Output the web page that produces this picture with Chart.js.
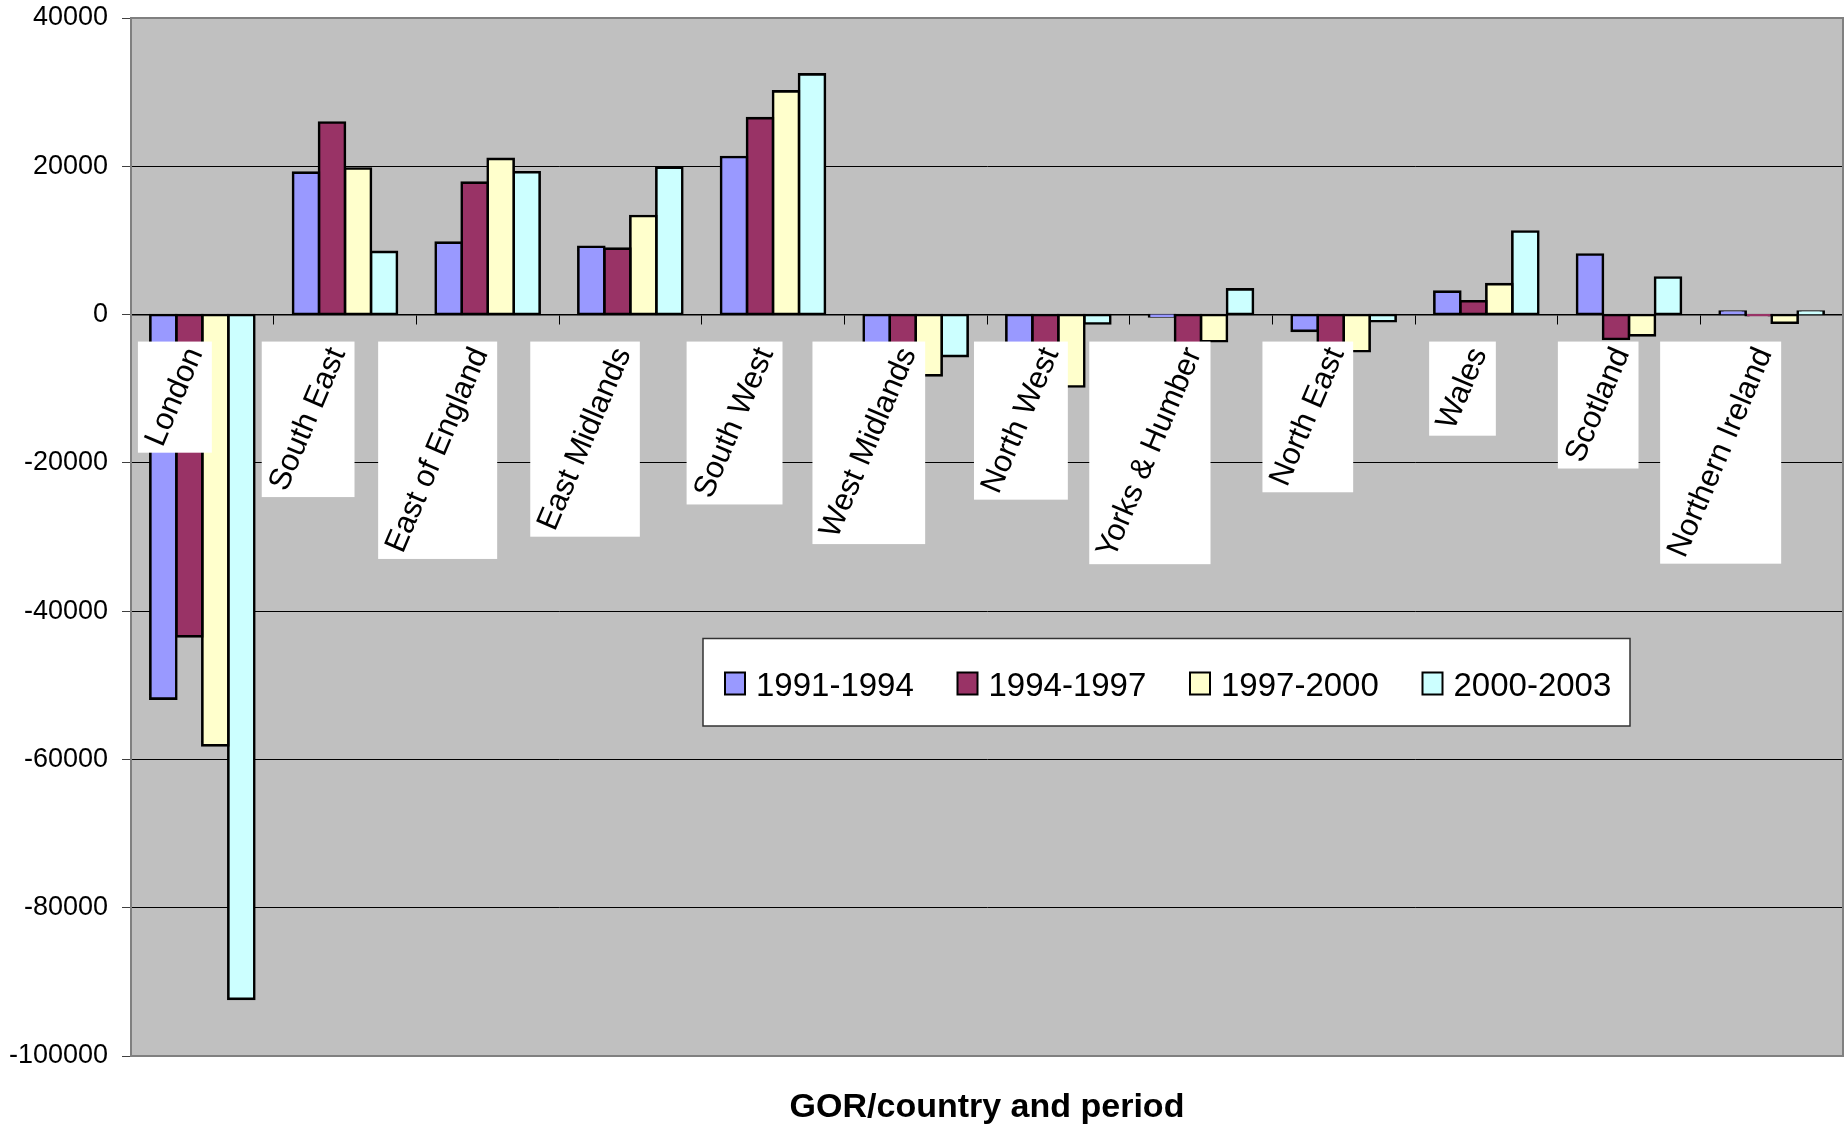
<!DOCTYPE html>
<html>
<head>
<meta charset="utf-8">
<title>Net internal migration by GOR/country and period</title>
<script src="https://cdn.jsdelivr.net/npm/chart.js@4.4.1/dist/chart.umd.min.js"></script>
<style>
  html, body { margin: 0; padding: 0; background: #ffffff; }
  #chart { display: block; }
</style>
</head>
<body>
<canvas id="chart" width="1847" height="1124"></canvas>
<script>
// Regions (Government Office Regions and countries)
const categories = ['London', 'South East', 'East of England', 'East Midlands', 'South West',
  'West Midlands', 'North West', 'Yorks & Humber', 'North East', 'Wales', 'Scotland', 'Northern Ireland'];

// Periods shown as series
const periods = ['1991-1994', '1994-1997', '1997-2000', '2000-2003'];

// Net migration per region, one array per period
const net1991to1994 = [-51800, 19150, 9700, 9150, 21250, -5500, -6000, -250, -2200, 3100, 8100, 400];
const net1994to1997 = [-43400, 25900, 17800, 8900, 26500, -6500, -6200, -5000, -4500, 1800, -3300, -100];
const net1997to2000 = [-58100, 19700, 21000, 13300, 30100, -8200, -9700, -3600, -4950, 4100, -2800, -1100];
const net2000to2003 = [-92300, 8450, 19200, 19800, 32400, -5600, -1200, 3400, -900, 11200, 5000, 400];

// Value axis ticks
const yTicks = [40000, 20000, 0, -20000, -40000, -60000, -80000, -100000];

const axisTitle = 'GOR/country and period';

const seriesColors = ['#9999FF', '#993366', '#FFFFCC', '#CCFFFF'];
const FONT = "'Liberation Sans', Arial, Helvetica, sans-serif";

// Grey plot area with a darker frame
const plotFrame = {
  id: 'plotFrame',
  beforeDraw(chart) {
    const { ctx, chartArea: a } = chart;
    ctx.save();
    ctx.fillStyle = '#C0C0C0';
    ctx.fillRect(a.left, a.top, a.right - a.left, a.bottom - a.top);
    ctx.restore();
  },
  beforeDatasetsDraw(chart) {
    const { ctx, chartArea: a } = chart;
    ctx.save();
    ctx.strokeStyle = '#808080';
    ctx.lineWidth = 2;
    ctx.strokeRect(a.left, a.top, a.right - a.left, a.bottom - a.top);
    ctx.restore();
  }
};

// Slanted category names on white boxes, hanging just below the zero line
const categoryLabels = {
  id: 'categoryLabels',
  afterDatasetsDraw(chart) {
    const { ctx } = chart;
    const xs = chart.scales.x, ys = chart.scales.y;
    const angle = 67 * Math.PI / 180;
    const cos = Math.cos(angle), sin = Math.sin(angle);
    const zeroY = ys.getPixelForValue(0);
    ctx.save();
    ctx.font = '31px ' + FONT;
    categories.forEach((name, i) => {
      const cx = xs.getPixelForValue(i);
      const t = ctx.measureText(name).width;
      const w = t * cos + 33.5;
      const h = t * sin + 15.9;
      const right = cx + 9.5;
      const top = zeroY + 27;
      const left = right - w;
      ctx.fillStyle = '#FFFFFF';
      ctx.fillRect(left, top, w, h);
      ctx.save();
      ctx.translate(left + w / 2, top + h / 2);
      ctx.rotate(-angle);
      ctx.fillStyle = '#000000';
      ctx.textAlign = 'center';
      ctx.textBaseline = 'middle';
      ctx.fillText(name, 0, 0);
      ctx.restore();
    });
    ctx.restore();
  }
};

// Boxed legend inside the plot area
const boxLegend = {
  id: 'boxLegend',
  afterDraw(chart) {
    const { ctx } = chart;
    const box = { x: 703, y: 638.5, w: 927, h: 87.5 };
    ctx.save();
    ctx.fillStyle = '#FFFFFF';
    ctx.fillRect(box.x, box.y, box.w, box.h);
    ctx.strokeStyle = '#333333';
    ctx.lineWidth = 1.5;
    ctx.strokeRect(box.x, box.y, box.w, box.h);
    ctx.font = '33px ' + FONT;
    ctx.textBaseline = 'alphabetic';
    ctx.textAlign = 'left';
    chart.data.datasets.forEach((ds, i) => {
      const sx = 725 + i * 232.5;
      ctx.fillStyle = ds.backgroundColor;
      ctx.fillRect(sx, 672.5, 20, 22);
      ctx.strokeStyle = '#000000';
      ctx.lineWidth = 2;
      ctx.strokeRect(sx, 672.5, 20, 22);
      ctx.fillStyle = '#000000';
      ctx.fillText(ds.label, sx + 31, 696);
    });
    ctx.restore();
  }
};

// Category axis title under the plot
const axisTitlePlugin = {
  id: 'axisTitle',
  afterDraw(chart) {
    const { ctx, chartArea: a } = chart;
    ctx.save();
    ctx.font = 'bold 34px ' + FONT;
    ctx.fillStyle = '#000000';
    ctx.textAlign = 'center';
    ctx.textBaseline = 'alphabetic';
    ctx.fillText(axisTitle, (a.left + a.right) / 2, 1117);
    ctx.restore();
  }
};

const seriesValues = [net1991to1994, net1994to1997, net1997to2000, net2000to2003];

new Chart(document.getElementById('chart'), {
  type: 'bar',
  data: {
    labels: categories,
    datasets: periods.map((p, i) => ({
      label: p,
      data: seriesValues[i],
      backgroundColor: seriesColors[i],
      borderColor: '#000000',
      borderWidth: 2.6,
      borderSkipped: false,
      inflateAmount: 1.3,
      categoryPercentage: 0.729,
      barPercentage: 1.0
    }))
  },
  options: {
    responsive: false,
    animation: false,
    devicePixelRatio: 1,
    layout: { padding: { left: 0, top: 18, right: 4, bottom: 68 } },
    plugins: {
      legend: { display: false },
      tooltip: { enabled: false },
      title: { display: false }
    },
    scales: {
      x: {
        type: 'category',
        position: { y: 0 },
        offset: true,
        grid: {
          display: true,
          offset: true,
          drawOnChartArea: false,
          drawTicks: true,
          tickLength: 9,
          tickColor: '#000000',
          lineWidth: 1
        },
        border: { display: true, color: '#000000', width: 1.5 },
        ticks: { display: false }
      },
      y: {
        type: 'linear',
        position: 'left',
        min: yTicks[yTicks.length - 1],
        max: yTicks[0],
        afterBuildTicks(scale) {
          scale.ticks = yTicks.slice().reverse().map(v => ({ value: v }));
        },
        afterFit(scale) {
          scale.width = 131;
          scale.paddingTop = 0;
          scale.paddingBottom = 0;
        },
        grid: {
          color: '#000000',
          lineWidth: 1,
          drawTicks: true,
          tickLength: 9,
          tickColor: '#404040'
        },
        border: { display: true, color: '#808080', width: 2 },
        ticks: {
          padding: 14,
          color: '#000000',
          font: { family: FONT, size: 27 },
          callback: v => String(v)
        }
      }
    }
  },
  plugins: [plotFrame, categoryLabels, boxLegend, axisTitlePlugin]
});
</script>
</body>
</html>
